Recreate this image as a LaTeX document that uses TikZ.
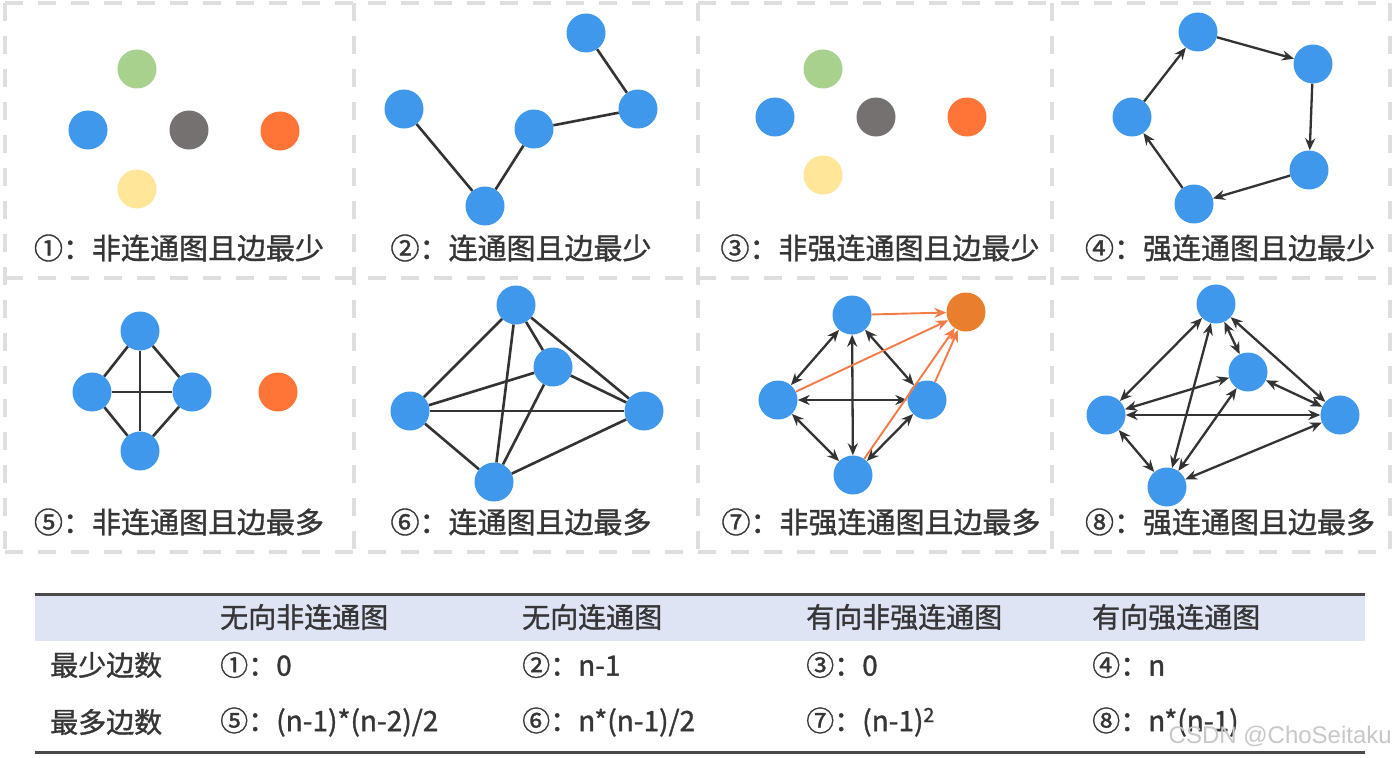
\documentclass[tikz,border=0pt]{standalone}
\usepackage{fontspec}
\setmainfont{Noto Sans CJK SC}[FakeBold=1.2]
\newfontfamily\wmfont{Liberation Sans}
\usetikzlibrary{arrows.meta}
\definecolor{nblue}{HTML}{3F98EC}
\definecolor{ngreen}{HTML}{A9D18E}
\definecolor{ngray}{HTML}{767171}
\definecolor{norange}{HTML}{FF7537}
\definecolor{nyellow}{HTML}{FFE699}
\definecolor{norangeb}{HTML}{E97E2D}
\definecolor{eorange}{HTML}{F47B45}
\definecolor{edgec}{HTML}{333333}
\definecolor{gridc}{HTML}{DEDEDE}
\definecolor{txt}{HTML}{363636}
\definecolor{band}{HTML}{DEE4F3}
\definecolor{rulec}{HTML}{4A4A4A}
\definecolor{wmc}{HTML}{C8C8C8}
\begin{document}
\begin{tikzpicture}[x=1pt,y=-1pt,
  vtx/.style={circle,minimum size=39pt,inner sep=0pt,fill=#1},
  vtx/.default=nblue,
  ln/.style={draw=edgec,line width=2.6pt},
  arr/.style={draw=edgec,line width=2.3pt,-{Stealth[length=12pt,width=10pt]}},
  barr/.style={draw=edgec,line width=2.3pt,{Stealth[length=12pt,width=10pt]}-{Stealth[length=12pt,width=10pt]}},
  oarr/.style={draw=eorange,line width=1.9pt,-{Stealth[length=12pt,width=10pt]}},
  lbl/.style={text=txt,font=\fontsize{29pt}{34pt}\selectfont,inner sep=0pt},
  tbl/.style={text=txt,font=\fontsize{28pt}{33pt}\selectfont,inner sep=0pt,anchor=west},
  gridline/.style={draw=gridc,line width=3.5pt,dash pattern=on 18pt off 15pt},
]
\useasboundingbox (0,0) rectangle (1396,757);
\fill[white] (0,0) rectangle (1396,757);

% dashed grid
\foreach \yy in {3,278,552} \draw[gridline] (5,\yy) -- (1390,\yy);
\foreach \xx in {5,354,698,1052,1390} \draw[gridline] (\xx,3) -- (\xx,552);

% panel 1
\node[vtx=ngreen] (a1) at (137,69) {};
\node[vtx] (a2) at (88,130) {};
\node[vtx=ngray] (a3) at (189,130) {};
\node[vtx=norange] (a4) at (280,131) {};
\node[vtx=nyellow] (a5) at (137,189) {};
\node[lbl] (l1) at (179,248) {①：非连通图且边最少};

% panel 2
\node[vtx] (b1) at (404,109) {};
\node[vtx] (b2) at (485,206) {};
\node[vtx] (b3) at (534,129) {};
\node[vtx] (b4) at (638,109) {};
\node[vtx] (b5) at (586,33) {};
\draw[ln] (b1) -- (b2);
\draw[ln] (b2) -- (b3);
\draw[ln] (b3) -- (b4);
\draw[ln] (b4) -- (b5);
\node[lbl] (l2) at (521,248) {②：连通图且边最少};

% panel 3
\node[vtx=ngreen] (c1) at (823,69) {};
\node[vtx] (c2) at (775,117) {};
\node[vtx=ngray] (c3) at (876,117) {};
\node[vtx=norange] (c4) at (967,117) {};
\node[vtx=nyellow] (c5) at (823,175) {};
\node[lbl] (l3) at (880,248) {③：非强连通图且边最少};

% panel 4
\node[vtx] (d1) at (1198,32) {};
\node[vtx] (d2) at (1313,64) {};
\node[vtx] (d3) at (1309,170) {};
\node[vtx] (d4) at (1194,204) {};
\node[vtx] (d5) at (1132,117) {};
\draw[arr] (d1) -- (d2);
\draw[arr] (d2) -- (d3);
\draw[arr] (d3) -- (d4);
\draw[arr] (d4) -- (d5);
\draw[arr] (d5) -- (d1);
\node[lbl] (l4) at (1230,248) {④：强连通图且边最少};

% panel 5
\node[vtx] (e1) at (140,331) {};
\node[vtx] (e2) at (92,392) {};
\node[vtx] (e3) at (192,392) {};
\node[vtx] (e4) at (140,451) {};
\node[vtx=norange] (e5) at (278,392) {};
\draw[ln] (e1) -- (e2);
\draw[ln] (e1) -- (e3);
\draw[ln] (e1) -- (e4);
\draw[ln] (e2) -- (e3);
\draw[ln] (e2) -- (e4);
\draw[ln] (e3) -- (e4);
\node[lbl] (l5) at (179,522) {⑤：非连通图且边最多};

% panel 6
\node[vtx] (f1) at (516,305) {};
\node[vtx] (f2) at (553,367) {};
\node[vtx] (f3) at (410,411) {};
\node[vtx] (f4) at (644,411) {};
\node[vtx] (f5) at (494,482) {};
\foreach \p/\q in {f1/f2,f1/f3,f1/f4,f1/f5,f2/f3,f2/f4,f2/f5,f3/f4,f3/f5,f4/f5}
  \draw[ln] (\p) -- (\q);
\node[lbl] (l6) at (521,522) {⑥：连通图且边最多};

% panel 7
\node[vtx] (g1) at (852,315) {};
\node[vtx=norangeb] (g2) at (966,312) {};
\node[vtx] (g3) at (778,400) {};
\node[vtx] (g4) at (927,400) {};
\node[vtx] (g5) at (853,475) {};
\foreach \p/\q in {g1/g3,g1/g5,g1/g4,g3/g4,g3/g5,g5/g4}
  \draw[barr] (\p) -- (\q);
\foreach \p in {g1,g3,g4,g5}
  \draw[oarr] (\p) -- (g2);
\node[lbl] (l7) at (881,522) {⑦：非强连通图且边最多};

% panel 8
\node[vtx] (h1) at (1216,304) {};
\node[vtx] (h2) at (1248,372) {};
\node[vtx] (h3) at (1106,415) {};
\node[vtx] (h4) at (1340,415) {};
\node[vtx] (h5) at (1167,487) {};
\foreach \p/\q in {h1/h2,h1/h3,h1/h4,h1/h5,h2/h3,h2/h4,h2/h5,h3/h4,h3/h5,h4/h5}
  \draw[barr] (\p) -- (\q);
\node[lbl] (l8) at (1230,522) {⑧：强连通图且边最多};

% table
\fill[band] (35,595) rectangle (1365,641);
\draw[rulec,line width=3pt] (35,594) -- (1365,594);
\draw[rulec,line width=3pt] (35,752) -- (1365,752);
\node[tbl] (h01) at (220,617) {无向非连通图};
\node[tbl] (h02) at (522,617) {无向连通图};
\node[tbl] (h03) at (806,617) {有向非强连通图};
\node[tbl] (h04) at (1092,617) {有向强连通图};
\node[tbl] (r1) at (50,665) {最少边数};
\node[tbl] (r2) at (50,722) {最多边数};
\node[tbl] (v11) at (220,665) {①：0};
\node[tbl] (v12) at (522,665) {②：n-1};
\node[tbl] (v13) at (806,665) {③：0};
\node[tbl] (v14) at (1092,665) {④：n};
\node[tbl] (v21) at (220,722) {⑤：(n-1)*(n-2)/2};
\node[tbl] (v22) at (522,722) {⑥：n*(n-1)/2};
\node[tbl] (v23) at (806,722) {⑦：(n-1)\textsuperscript{2}};
\node[tbl] (v24) at (1092,722) {⑧：n*(n-1)};
\node[anchor=east,inner sep=0pt,text=wmc,font=\wmfont\fontsize{24pt}{28pt}\selectfont] (wm) at (1392,736) {CSDN @ChoSeitaku};
\end{tikzpicture}
\end{document}
